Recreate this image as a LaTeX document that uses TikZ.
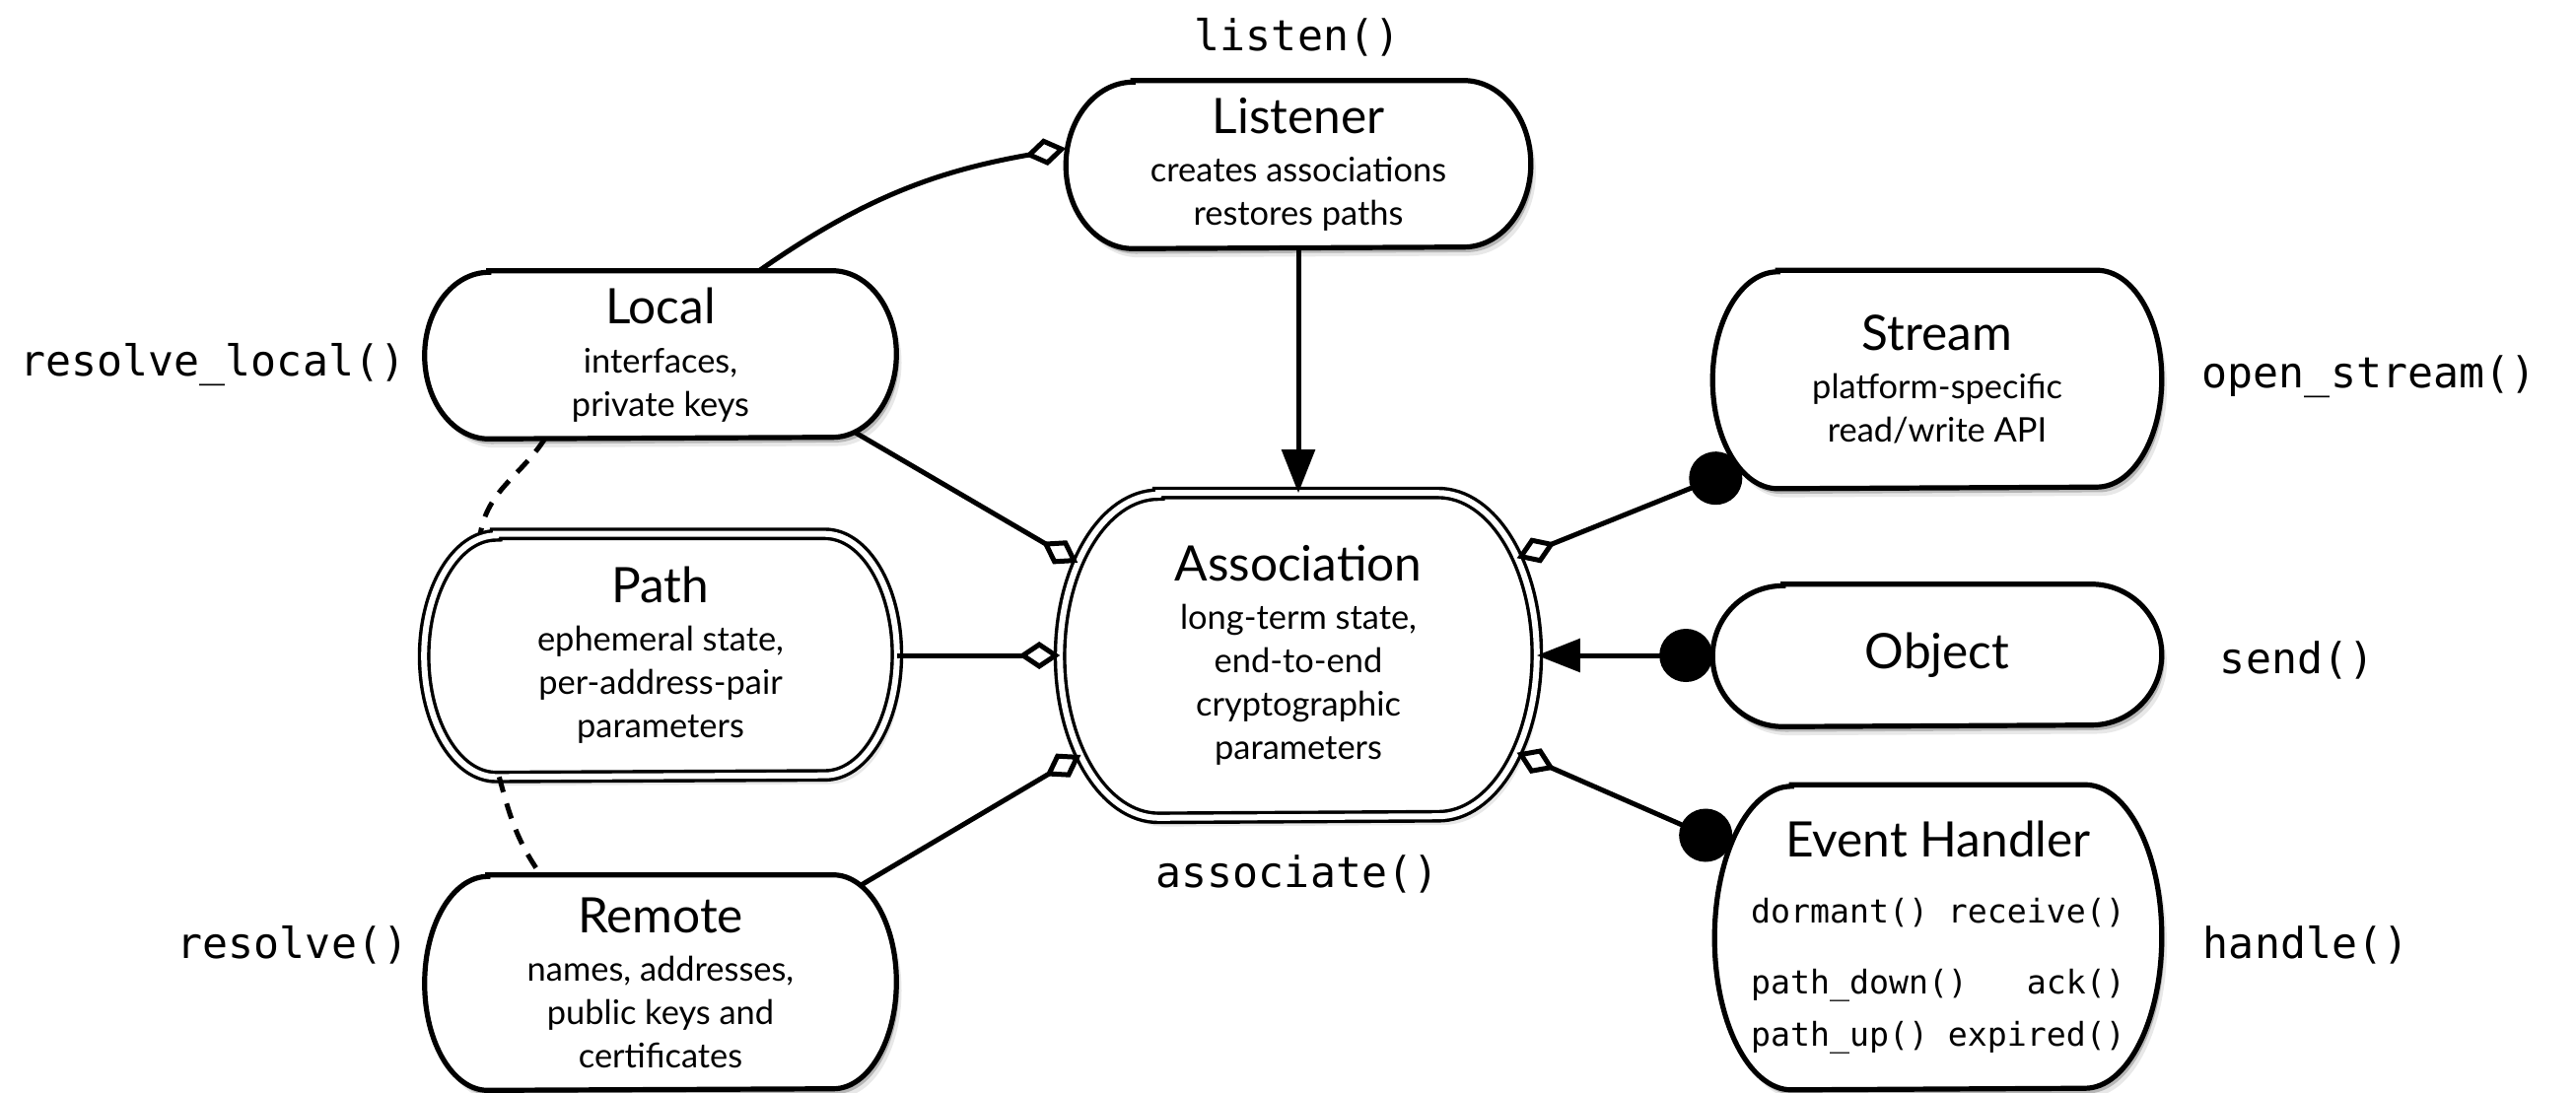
\documentclass[tikz,border=0pt]{standalone}
\usepackage{fontspec}
\setmainfont{Lato}
\newfontfamily\codefont{DejaVu Sans Mono}
\usetikzlibrary{arrows.meta,shadows,calc}
\pgfdeclarelayer{bg}
\pgfsetlayers{bg,main}
\newcommand\ttlf{\fontsize{12.4}{14}\selectfont}
\newcommand\bodyf{\fontsize{8.6}{11}\selectfont}
\newcommand\lblf{\codefont\fontsize{10.8}{13}\selectfont}
\newcommand\ehf{\codefont\fontsize{8.3}{11}\selectfont}
% #1 node, #2 x radius of side, #3 half height, #4 style
\newcommand\pillshape[4]{%
  \draw[#4] ($(#1.north west)+(#2,0)$) -- ($(#1.north east)+(-#2,0)$)
    arc[start angle=90,end angle=-90,x radius=#2,y radius=#3]
    -- ($(#1.south west)+(#2,0)$)
    arc[start angle=270,end angle=90,x radius=#2,y radius=#3] -- cycle;}
\begin{document}
\begin{tikzpicture}[x=0.25pt,y=0.25pt,
  box/.style={rectangle, inner sep=0pt, align=center, font=\bodyf},
  pillline/.style={draw=black, line width=1.3pt, fill=white,
    drop shadow={shadow xshift=1.3pt, shadow yshift=-2.2pt, fill=black!50, opacity=0.18},
    drop shadow={shadow xshift=0.7pt, shadow yshift=-1.3pt, fill=black!60, opacity=0.38}},
  dblline/.style={pillline, line width=0.85pt, double=white, double distance=1.5pt},
  conn/.style={line width=1.25pt},
  dia/.tip={Diamond[fill=white, length=10.5pt, width=7pt]},
  dot/.tip={Circle[length=13.5pt]},
  tri/.tip={Triangle[length=11pt, width=8.3pt]},
  agg/.style={conn, -dia},
  dashlink/.style={line width=1.25pt, dash pattern=on 4pt off 3pt},
  lbl/.style={font=\lblf, inner sep=0pt, anchor=base}
]
\useasboundingbox (0,0) rectangle (2613,1108);

% boxes (text)
\node[box, minimum width=117.5pt, minimum height=42.25pt] (listener) at (1317,941)
  {{\ttlf Listener}\\[1.2pt]creates associations\\restores paths};
\node[box, minimum width=119.25pt, minimum height=42.25pt] (local) at (670,748)
  {{\ttlf Local}\\[1.5pt]interfaces,\\private keys};
\node[box, minimum width=119.5pt, minimum height=61.25pt] (path) at (670,443)
  {{\ttlf Path}\\[1.2pt]ephemeral state,\\per-address-pair\\parameters};
\node[box, minimum width=119.25pt, minimum height=54.25pt] (remote) at (670,111)
  {{\ttlf Remote}\\[1.2pt]names, addresses,\\public keys and\\certificates};
\node[box, minimum width=120.5pt, minimum height=82pt] (association) at (1317,443)
  {{\ttlf Association}\\[1.2pt]long-term state,\\end-to-end\\cryptographic\\parameters};
\node[box, minimum width=113.5pt, minimum height=55pt] (stream) at (1965,723)
  {{\ttlf Stream}\\[1.2pt]platform-specific\\read/write API};
\node[box, minimum width=113.5pt, minimum height=35.75pt] (object) at (1965,443)
  {{\ttlf Object}};
\node[box, minimum width=113pt, minimum height=77pt] (eh) at (1966,157)
  {{\ttlf Event Handler}\\[5.75pt]{\ehf dormant() receive()}\\[7pt]{\ehf path\_down()\ \ \ ack()}\\[2.25pt]{\ehf path\_up() expired()}};

% box outlines
\begin{pgfonlayer}{bg}
\pillshape{listener}{17pt}{21.125pt}{pillline}
\pillshape{local}{16.25pt}{21.125pt}{pillline}
\pillshape{path}{18.25pt}{30.625pt}{dblline}
\pillshape{remote}{16pt}{27.125pt}{pillline}
\pillshape{association}{25pt}{41pt}{dblline}
\pillshape{stream}{16.5pt}{27.5pt}{pillline}
\pillshape{object}{17.875pt}{17.875pt}{pillline}
\pillshape{eh}{19.5pt}{38.5pt}{pillline}
\end{pgfonlayer}

% points on the rounded sides
\coordinate (localout) at ($(local.east)+(-16.25pt,0)+(-69:16.25pt and 21.125pt)$);
\coordinate (remoteout) at ($(remote.east)+(-16pt,0)+(65:16pt and 27.125pt)$);
\coordinate (streamout) at ($(stream.west)+(16.5pt,0)+(235:16.5pt and 27.5pt)$);
\coordinate (ehout) at ($(eh.west)+(19.5pt,0)+(143:19.5pt and 38.5pt)$);
\coordinate (ascA) at ($(association.west)+(25pt,0)+(145:25pt and 41pt)$);
\coordinate (ascB) at ($(association.west)+(25pt,0)+(218:25pt and 41pt)$);
\coordinate (ascC) at ($(association.east)+(-25pt,0)+(37:25pt and 41pt)$);
\coordinate (ascD) at ($(association.east)+(-25pt,0)+(-37:25pt and 41pt)$);

% labels
\node[lbl] (listenlbl) at (1316,1057) {listen()};
\node[lbl] (resolvelocallbl) at (216,727) {resolve\_local()};
\node[lbl] (resolvelbl) at (297,136) {resolve()};
\node[lbl] (openstreamlbl) at (2403,715) {open\_stream()};
\node[lbl] (sendlbl) at (2330,425) {send()};
\node[lbl] (handlelbl) at (2339,136) {handle()};
\node[lbl] (associatelbl) at (1316,208) {associate()};

% connectors
\draw[agg] ($(local.north)+(25pt,0)$) to[out=35,in=190] (listener.176);
\draw[conn,-tri] (listener) -- (association);
\draw[agg] (localout) -- (ascA);
\draw[agg] (path.east) -- (association.west);
\draw[agg] (remoteout) -- (ascB);
\draw[conn, dot-dia] (streamout) -- (ascC);
\draw[conn, dot-tri] (object.west) -- (association.east);
\draw[conn, dot-dia] (ehout) -- (ascD);
\draw[dashlink] (local.216) to[out=237,in=80] (path.146);
\draw[dashlink] (path.217) to[out=285,in=125] (remote.138);
\end{tikzpicture}
\end{document}
